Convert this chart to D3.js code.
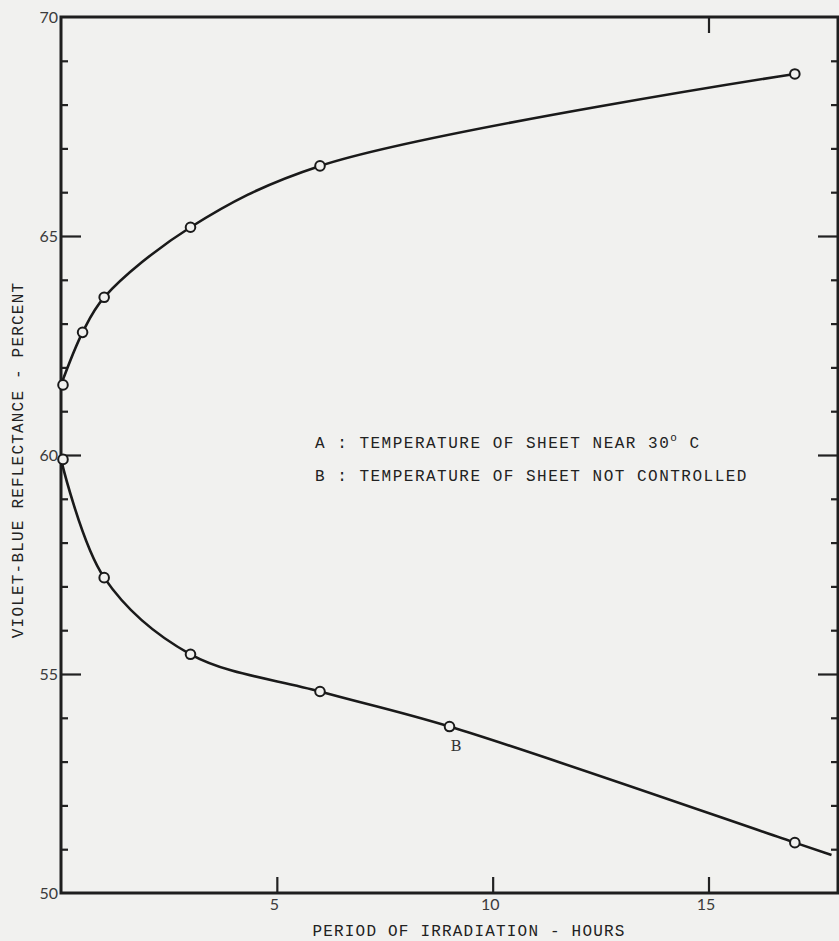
<!DOCTYPE html>
<html>
<head>
    <title>Violet-blue reflectance vs irradiation</title>
    <style>
        body, html {
            margin: 0;
            background: #f1f1ef;
        }
        .num text {
            font: 16px Lato, "DejaVu Sans", sans-serif;
            fill: #3b3b3b;
        }
        .typed {
            font: 16px "Liberation Mono", monospace;
            letter-spacing: 1.2px;
            fill: #222;
        }
        .typed.legend {
            letter-spacing: 1.5px;
        }
        .tick line {
            stroke: #222;
            stroke-width: 2.2;
        }
        .domain {
            display: none;
        }
    </style>
    <script src="https://cdnjs.cloudflare.com/ajax/libs/d3/7.8.5/d3.min.js"></script>
</head>
<body>
    <svg width="839" height="941"></svg>
<script>
    // curve A: temperature of sheet near 30 C
    const hoursA = [0, 0.5, 1, 3, 6, 17];
    const reflA = [61.6, 62.8, 63.6, 65.2, 66.6, 68.7];
    // curve B: temperature not controlled
    const hoursB = [0, 1, 3, 6, 9, 17];
    const reflB = [59.9, 57.2, 55.45, 54.6, 53.8, 51.15];
    // where the drawn B line stops at the right frame
    const tailB = [17.85, 50.87];

    const xTicks = [5, 10, 15];
    const yLabels = [50, 55, 60, 65, 70];
    const yMajor = [55, 60, 65];
    const yMinor = d3.range(51, 70).filter(v => v % 5 !== 0);

    const legendLines = ["A : TEMPERATURE OF SHEET NEAR 30", "B : TEMPERATURE OF SHEET NOT CONTROLLED"];

    const svg = d3.select('svg');
    const margin = { top: 17, right: 1, bottom: 48, left: 61 };
    const width = svg.attr('width') - margin.left - margin.right;
    const height = svg.attr('height') - margin.top - margin.bottom;
    const g = svg.append('g').attr('transform', `translate(${margin.left},${margin.top})`);

    const x = d3.scaleLinear().domain([0, 18]).range([0, width]);
    const y = d3.scaleLinear().domain([50, 70]).range([height, 0]);

    // minor ticks, inward on both sides
    g.append('g').call(d3.axisLeft(y).tickValues(yMinor).tickSize(-7).tickFormat(''));
    g.append('g').attr('transform', `translate(${width},0)`)
        .call(d3.axisRight(y).tickValues(yMinor).tickSize(-7).tickFormat(''));
    // major ticks
    g.append('g').call(d3.axisLeft(y).tickValues(yMajor).tickSize(-20).tickFormat(''));
    g.append('g').attr('transform', `translate(${width},0)`)
        .call(d3.axisRight(y).tickValues(yMajor).tickSize(-20).tickFormat(''));
    g.append('g').attr('transform', `translate(0,${height})`)
        .call(d3.axisBottom(x).tickValues(xTicks).tickSize(-16).tickFormat(''));
    g.append('g')
        .call(d3.axisTop(x).tickValues([15]).tickSize(-16).tickFormat(''));

    // labels
    g.append('g').attr('class', 'num')
        .call(d3.axisLeft(y).tickValues(yLabels).tickSize(0).tickPadding(3));
    g.append('g').attr('class', 'num').attr('transform', `translate(-3,${height})`)
        .call(d3.axisBottom(x).tickValues(xTicks).tickSize(0).tickPadding(6));

    // frame
    g.append('rect')
        .attr('width', width)
        .attr('height', height)
        .attr('fill', 'none')
        .attr('stroke', '#1e1e1e')
        .attr('stroke-width', 3);

    const line = d3.line()
        .x(d => x(d[0]))
        .y(d => y(d[1]))
        .curve(d3.curveCatmullRom.alpha(0.5));

    const ptsA = hoursA.map((h, i) => [h, reflA[i]]);
    const ptsB = hoursB.map((h, i) => [h, reflB[i]]);

    g.append('path')
        .datum(ptsA)
        .attr('d', line)
        .attr('fill', 'none')
        .attr('stroke', '#1a1a1a')
        .attr('stroke-width', 2.6);
    g.append('path')
        .datum(ptsB.concat([tailB]))
        .attr('d', line)
        .attr('fill', 'none')
        .attr('stroke', '#1a1a1a')
        .attr('stroke-width', 2.6);

    g.selectAll('.pt')
        .data(ptsA.concat(ptsB))
        .enter().append('circle')
        .attr('class', 'pt')
        .attr('cx', d => x(d[0]) + (d[0] === 0 ? 2 : 0))
        .attr('cy', d => y(d[1]))
        .attr('r', 4.8)
        .attr('fill', '#f1f1ef')
        .attr('stroke', '#1a1a1a')
        .attr('stroke-width', 2);

    g.append('text')
        .attr('x', x(9.15))
        .attr('y', y(53.25))
        .attr('text-anchor', 'middle')
        .attr('font-family', '"DejaVu Serif", serif')
        .attr('font-size', 15)
        .attr('fill', '#333')
        .text('B');

    // legend
    const leg = svg.append('text').attr('class', 'typed legend');
    leg.append('tspan').attr('x', 315).attr('y', 448).text(legendLines[0]);
    leg.append('tspan').attr('dy', -7).attr('font-size', 11).text('o');
    leg.append('tspan').attr('dy', 7).text(' C');
    svg.append('text').attr('class', 'typed legend')
        .attr('x', 315).attr('y', 481)
        .text(legendLines[1]);

    // axis titles
    svg.append('text').attr('class', 'typed')
        .attr('x', 469).attr('y', 936)
        .attr('text-anchor', 'middle')
        .text('PERIOD OF IRRADIATION - HOURS');
    svg.append('text').attr('class', 'typed')
        .attr('transform', 'translate(23,460) rotate(-90)')
        .attr('text-anchor', 'middle')
        .text('VIOLET-BLUE REFLECTANCE - PERCENT');
</script>
</body>
</html>
